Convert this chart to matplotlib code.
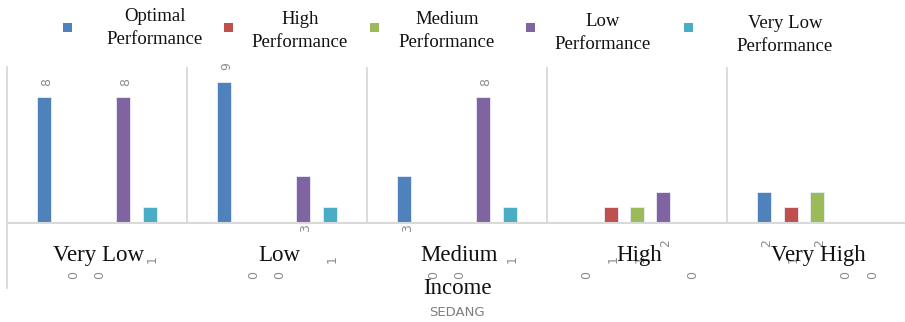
import numpy as np
import matplotlib.pyplot as plt
from matplotlib.patches import Rectangle

# Income groups and performance counts
categories = ['Very Low', 'Low', 'Medium', 'High', 'Very High']
series = ['Optimal\nPerformance', 'High\nPerformance', 'Medium\nPerformance',
          'Low\nPerformance', 'Very Low\nPerformance']
optimal = [8, 9, 3, 0, 2]
high = [0, 0, 0, 1, 1]
medium = [0, 0, 0, 1, 2]
low = [8, 3, 8, 2, 0]
very_low = [1, 1, 1, 0, 0]
values = [optimal, high, medium, low, very_low]

colors = ['#4F81BD', '#C0504D', '#9BBB59', '#8064A2', '#4BACC6']
serif = 'Liberation Serif'
grid_c = '#d9d9d9'

W, H = 905, 322
fig = plt.figure(figsize=(W / 100, H / 100), dpi=100)

# axes box in pixels: left 7, top 67, bottom 288, 180 px per group
px_unit = 15.7
ax = fig.add_axes([7 / W, (H - 288) / H, 900 / W, 221 / H])
ax.set_xlim(-0.5, 4.5)
ax.set_ylim(-(288 - 223) / px_unit, (223 - 67) / px_unit)

x = np.arange(len(categories))
step = 26.3 / 180
bw = 14 / 180
for i, (vals, c) in enumerate(zip(values, colors)):
    xs = x + (i - 2) * step
    ax.bar(xs, vals, width=bw, color=c, edgecolor='#e8eef7', linewidth=0.6,
           zorder=3)
    for xi, v in zip(xs, vals):
        # tall bars get the label on top, the rest hang under the axis
        ly = v + 1.0 if v >= 5 else v - 3.3
        ax.text(xi + 0.015, ly, str(v), rotation=90, ha='center', va='center',
                fontsize=9, color='#8c8c8c', family='DejaVu Sans', zorder=4)

# group separators and baseline
ax.vlines(x[:-1] + 0.5, 0, ax.get_ylim()[1], color=grid_c, lw=1.3, zorder=1)
ax.axhline(0, color=grid_c, lw=1.5, zorder=4)
for s in ['top', 'right', 'bottom']:
    ax.spines[s].set_visible(False)
ax.spines['left'].set_color(grid_c)
ax.spines['left'].set_linewidth(1.3)
ax.set_xticks([])
ax.set_yticks([])

for xi, name in zip(x, categories):
    ax.text(xi + 0.01, -2.05, name, ha='center', va='center', fontsize=16.5,
            family=serif, color='#111111', zorder=5)

fig.text(457 / W, 1 - 289 / H, 'Income', ha='center', va='center',
         fontsize=16.5, family=serif, color='#111111')
fig.text(457 / W, 1 - 312 / H, 'SEDANG', ha='center', va='center',
         fontsize=9.5, family='DejaVu Sans', color='#7f7f7f')

# legend row: swatch, then a centred two-line label
swatch_x = [67, 228, 374, 530, 688]
label_x = [155, 300, 447, 603, 785]
label_y = [28, 31, 31, 33, 35]
sz = 9
for sx, lx, ly, c, name in zip(swatch_x, label_x, label_y, colors, series):
    fig.patches.append(Rectangle(((sx - sz / 2) / W, 1 - (27 + sz / 2) / H),
                                 sz / W, sz / H, transform=fig.transFigure,
                                 facecolor=c, edgecolor='none'))
    fig.text(lx / W, 1 - ly / H, name, ha='center', va='center',
             multialignment='center', linespacing=1.4, fontsize=13.5,
             family=serif, color='#111111')

fig.savefig('out.png', dpi=100)
